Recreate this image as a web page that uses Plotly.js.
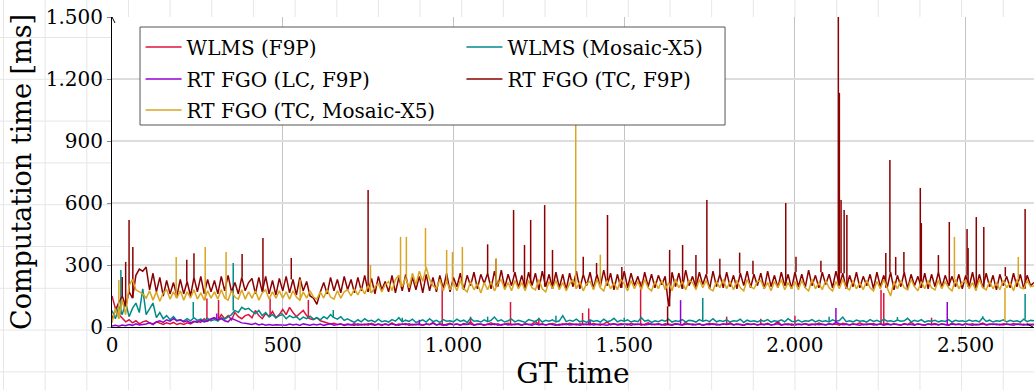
<!DOCTYPE html>
<html>
<head>
<meta charset="utf-8">
<script src="https://cdn.plot.ly/plotly-3.0.1.min.js"></script>
<style>
html,body{margin:0;padding:0;}
body{width:1034px;height:390px;overflow:hidden;background-color:#fff;
background-image:linear-gradient(to right,#e6e6e6 1px,transparent 1px),linear-gradient(to bottom,#e6e6e6 1px,transparent 1px);
background-size:41.67px 41.8px;background-position:3px -4.8px;}
#chart{width:1034px;height:390px;}
</style>
</head>
<body>
<div id="chart"></div>
<script>
// Sampling step of the GT time axis (one value every 10 units)
const SAMPLE_STEP = 10;

const seriesNames = ["WLMS (F9P)", "WLMS (Mosaic-X5)", "RT FGO (LC, F9P)", "RT FGO (TC, F9P)", "RT FGO (TC, Mosaic-X5)"];
const seriesColors = ["#dc143c", "#008b8b", "#9400d3", "#8b0000", "#daa520"];

const wlmsF9p = [
150,90,60,40,25,35,20,30,15,25,
30,20,15,25,18,12,20,15,22,12,
18,12,20,15,25,30,22,40,28,35,
45,30,60,40,55,35,70,50,40,55,
60,45,80,55,40,65,50,75,45,60,
85,60,95,70,50,65,80,55,40,35,
45,30,25,20,15,18,12,15,10,14,
12,8,16,10,14,9,18,11,13,8,
15,10,20,9,14,12,17,8,13,11,
16,9,14,12,22,10,15,8,13,18,
11,14,9,17,12,25,10,15,13,8,
14,20,11,16,9,13,18,10,15,12,
9,16,12,14,28,11,15,10,13,17,
12,9,15,11,18,13,10,16,12,14,
10,17,13,9,15,24,11,14,12,16,
13,10,18,12,15,9,14,20,11,13,
16,12,9,14,11,17,13,10,22,12,
14,11,16,9,13,18,12,15,10,14,
12,20,11,15,13,9,17,12,14,10,
15,12,18,10,14,26,11,13,16,9,
13,15,11,17,12,14,10,19,13,11,
16,12,14,9,18,13,11,15,12,20,
11,14,13,17,10,15,12,18,11,14,
13,10,16,12,22,11,14,13,9,15,
12,17,11,14,13,10,18,12,15,11,
14,12,16,10,13,19,11,15,12,14,
10,16,13,11,17,12,14,9,15,12,
13];

const wlmsMosaic = [
80,40,100,60,120,50,90,116,70,184,
60,90,116,45,70,40,55,35,50,30,
35,28,40,30,45,32,38,28,42,30,
36,30,45,38,50,60,80,70,95,85,
90,75,65,80,55,70,50,60,45,55,
60,40,55,45,50,35,48,40,52,38,
45,35,50,40,60,45,38,50,32,40,
30,22,35,25,40,28,32,24,38,26,
30,24,36,28,45,25,33,27,38,22,
28,35,24,40,26,32,22,36,28,30,
25,38,27,33,22,42,28,30,24,35,
26,32,48,28,35,24,30,38,25,33,
28,22,36,30,26,40,24,32,28,35,
24,30,55,26,33,28,38,25,30,22,
34,27,31,24,38,26,30,42,25,32,
28,35,24,30,26,45,28,33,22,30,
26,34,28,38,24,30,27,36,25,32,
30,24,36,28,33,26,40,25,31,27,
35,24,30,28,38,22,33,27,30,25,
32,28,36,24,30,27,35,25,40,28,
26,33,24,30,28,36,25,32,27,30,
24,35,28,31,48,26,30,25,34,28,
30,24,36,27,32,25,38,28,30,26,
34,28,30,42,25,32,27,36,24,30,
28,33,25,30,27,36,24,32,28,30,
26,34,28,31,25,45,27,33,24,30,
28,35,25,32,27,30,24,38,26,32,
30];

const rtFgoLcF9p = [
5,8,4,10,6,12,8,15,10,12,
15,20,12,25,30,22,35,28,40,30,
35,25,30,20,28,22,32,25,30,40,
45,35,40,30,25,42,35,25,20,18,
15,12,18,10,14,9,12,8,11,10,
12,9,14,10,13,8,15,11,9,13,
10,14,8,12,16,9,11,14,8,12,
11,15,9,13,10,16,12,9,14,11,
13,10,15,12,9,14,11,16,10,13,
12,9,14,11,18,10,13,12,9,15,
11,14,10,13,12,16,9,12,15,10,
13,11,15,9,12,14,10,13,11,16,
10,14,12,9,15,11,13,10,14,12,
9,13,11,15,10,12,14,9,13,11,
15,10,12,14,11,9,13,16,10,12,
11,14,9,13,12,15,10,12,14,11,
13,10,15,11,9,14,12,10,13,15,
10,12,14,9,13,11,16,10,12,14,
12,15,10,13,11,9,14,12,15,10,
13,11,14,10,12,16,9,13,11,14,
10,13,12,15,9,12,14,11,13,10,
14,12,22,16,11,13,10,14,12,9,
13,11,15,10,12,14,9,13,11,15,
12,10,14,11,13,9,15,12,10,14,
11,13,10,15,12,9,14,11,13,10,
14,12,9,13,11,15,10,12,14,11,
13,10,15,12,9,14,11,13,10,12,
11];

const rtFgoTcF9p = [
40,80,120,150,100,170,140,250,280,270,
290,180,260,170,240,150,225,160,215,150,
230,160,220,150,240,170,245,160,230,170,
225,160,245,175,250,170,215,160,240,175,
215,235,160,240,170,245,160,225,155,235,
175,245,165,230,155,240,175,220,150,140,
110,170,215,160,240,175,230,165,245,180,
230,165,240,175,250,170,235,160,245,180,
220,170,250,165,240,175,255,170,240,180,
245,165,255,175,240,170,250,185,260,170,
240,195,260,180,250,200,265,185,255,210,
260,185,270,195,275,190,255,200,265,190,
250,185,265,200,260,180,270,195,255,185,
265,190,255,180,260,195,270,185,255,200,
265,185,255,195,275,200,260,180,255,190,
270,190,260,200,245,185,265,195,255,190,
250,205,245,100,265,195,260,185,275,200,
245,190,265,205,255,185,270,195,255,190,
265,195,250,185,260,200,270,190,255,200,
260,185,270,195,250,190,265,200,255,185,
265,195,255,190,275,200,250,190,265,205,
255,190,270,200,260,185,250,195,265,190,
245,200,255,185,265,195,250,190,265,180,
250,195,265,185,255,200,245,190,260,185,
255,195,265,190,250,200,245,195,255,185,
250,195,265,185,255,190,260,195,250,180,
255,200,245,190,260,195,255,185,250,200,
215];

const rtFgoTcMosaic = [
20,90,40,130,60,200,230,180,170,160,
140,175,130,170,125,165,180,135,170,140,
175,130,170,140,180,135,165,130,175,140,
170,135,180,140,130,175,145,135,180,135,
170,140,175,130,165,180,135,170,140,175,
140,170,135,175,145,130,170,140,175,145,
135,170,140,180,145,135,175,140,170,180,
150,185,155,190,160,200,165,195,210,170,
205,220,175,230,250,195,240,190,260,205,
270,220,290,230,200,185,230,175,220,180,
215,175,225,185,170,220,180,210,165,215,
180,220,175,210,230,180,215,175,225,185,
215,175,225,190,180,230,185,170,220,185,
225,180,215,175,210,230,185,220,175,210,
220,180,230,190,175,225,185,215,180,230,
210,175,225,185,220,180,230,190,175,220,
185,225,180,215,175,230,190,220,180,225,
215,180,230,190,225,185,175,220,190,230,
185,220,180,225,190,175,230,195,185,220,
225,185,215,175,220,190,230,180,215,185,
220,180,225,190,175,230,185,215,180,225,
190,175,220,185,230,190,180,225,185,215,
180,225,190,175,220,185,230,190,150,220,
185,225,190,180,230,195,175,220,185,225,
190,180,225,185,220,190,175,230,185,215,
225,185,215,175,230,190,180,220,185,215,
180,225,190,215,175,230,190,185,225,195,
200];

// Isolated spikes (GT time, peak value) for each series
const wlmsF9pSpikeX = [278,312,463,575,967,1050,1167,1250,1378,1396,1548,1800,1900,2000,2252,2260,2400];
const wlmsF9pSpikeY = [138,131,138,131,195,50,121,45,68,90,220,50,40,55,180,165,45];
const wlmsMosaicSpikeX = [26,238,355,497,648,850,1100,1300,1500,1730,2100,2300,2550,2674];
const wlmsMosaicSpikeY = [276,121,310,68,82,45,50,55,45,140,50,48,52,160];
const rtFgoLcSpikeX = [307,900,1400,1665,1950,2120,2446];
const rtFgoLcSpikeY = [65,35,30,130,28,92,121];
const rtFgoTcF9pSpikeX = [30,40,50,61,219,240,381,442,525,750,1100,1125,1176,1208,1226,1267,1290,1380,1419,1451,1493,1627,1633,1671,1710,1742,1780,1838,1877,1973,2003,2076,2127,2130,2135,2144,2152,2266,2278,2295,2319,2367,2370,2420,2452,2504,2507,2531,2553,2616,2674];
const rtFgoTcF9pSpikeY = [242,315,518,387,325,357,353,431,334,663,400,330,566,397,518,590,373,340,310,542,290,10,373,397,348,615,330,360,320,600,340,320,1500,1133,615,566,542,358,808,339,363,673,503,348,508,474,382,532,484,290,571];
const rtFgoTcMosaicSpikeX = [20,188,273,334,551,757,845,862,918,980,997,1026,1125,1358,1430,2467,2615,2654];
const rtFgoTcMosaicSpikeY = [227,339,387,363,230,300,436,436,479,373,363,387,330,1100,350,436,25,339];

const xTickVals = [0,500,1000,1500,2000,2500];
const yTickVals = [0,300,600,900,1200,1500];

const series = [
  {y: wlmsF9p, sx: wlmsF9pSpikeX, sy: wlmsF9pSpikeY},
  {y: wlmsMosaic, sx: wlmsMosaicSpikeX, sy: wlmsMosaicSpikeY},
  {y: rtFgoLcF9p, sx: rtFgoLcSpikeX, sy: rtFgoLcSpikeY},
  {y: rtFgoTcF9p, sx: rtFgoTcF9pSpikeX, sy: rtFgoTcF9pSpikeY},
  {y: rtFgoTcMosaic, sx: rtFgoTcMosaicSpikeX, sy: rtFgoTcMosaicSpikeY}
];

// one single-entry legend per series, arranged as a 2-column grid
const legendIds = ['legend', 'legend2', 'legend3', 'legend4', 'legend5'];
const legendX = [0.031, 0.379, 0.031, 0.379, 0.031];
const legendY = [0.966, 0.966, 0.863, 0.863, 0.763];

const traces = [];
series.forEach((s, k) => {
  const xs = s.y.map((_, i) => i * SAMPLE_STEP);
  const spx = [], spy = [];
  s.sx.forEach((sx, j) => {
    const base = s.y[Math.min(s.y.length - 1, Math.round(sx / SAMPLE_STEP))];
    spx.push(sx, sx, null);
    spy.push(base, s.sy[j], null);
  });
  traces.push({type:'scatter', mode:'lines', name:seriesNames[k], x:xs, y:s.y,
    line:{color:seriesColors[k], width:1.5}, legend:legendIds[k]});
  traces.push({type:'scatter', mode:'lines', name:seriesNames[k], x:spx, y:spy,
    line:{color:seriesColors[k], width:1.5}, showlegend:false, legend:legendIds[k]});
});

const SERIF = 'DejaVu Serif';

const layout = {
  width:1034, height:390,
  margin:{l:112, r:0, t:17, b:63},
  paper_bgcolor:'rgba(0,0,0,0)', plot_bgcolor:'#ffffff',
  separators:',.',
  font:{family:SERIF, color:'#000', size:20},
  showlegend:true,
  shapes:[
    {type:'rect', xref:'paper', yref:'paper', x0:0.0304, x1:0.6649, y0:0.6516, y1:0.9677,
      fillcolor:'#ffffff', line:{color:'#555', width:1}, layer:'above'},
    {type:'path', xref:'x', yref:'y', xsizemode:'pixel', ysizemode:'pixel', xanchor:0, yanchor:1500,
      path:'M-3,-6 L0,0 L3,-6', line:{color:'#000', width:1}, layer:'above'},
    {type:'path', xref:'x', yref:'y', xsizemode:'pixel', ysizemode:'pixel', xanchor:2697, yanchor:0,
      path:'M-6,-3 L0,0 L-6,3', line:{color:'#000', width:1}, layer:'above'}
  ],
  xaxis:{range:[0,2700], tickmode:'array', tickvals:xTickVals, separatethousands:true,
    ticks:'inside', ticklen:3, tickcolor:'#888', showgrid:true, gridcolor:'#c4c4c4', gridwidth:1,
    zeroline:false, showline:true, linecolor:'#000', linewidth:1,
    tickfont:{family:SERIF, size:20}, title:{text:'GT time', font:{family:SERIF, size:28}, standoff:2}},
  yaxis:{range:[0,1500], tickmode:'array', tickvals:yTickVals, separatethousands:true,
    ticks:'outside', ticklen:4, tickcolor:'#888', showgrid:true, gridcolor:'#dddddd', gridwidth:2,
    zeroline:false, showline:true, linecolor:'#000', linewidth:1,
    tickfont:{family:SERIF, size:20}, title:{text:'Computation time [ms]', font:{family:SERIF, size:27}, standoff:6}}
};
legendIds.forEach((id, k) => {
  layout[id] = {x:legendX[k], y:legendY[k], xanchor:'left', yanchor:'top', orientation:'v',
    bgcolor:'rgba(0,0,0,0)', borderwidth:0, itemwidth:36,
    font:{family:SERIF, size:20}};
});

Plotly.newPlot('chart', traces, layout, {staticPlot:true, displayModeBar:false});
if (document.fonts && document.fonts.load) {
  document.fonts.load('20px "DejaVu Serif"').then(() => Plotly.newPlot('chart', traces, layout, {staticPlot:true, displayModeBar:false}));
}
</script>
</body>
</html>
